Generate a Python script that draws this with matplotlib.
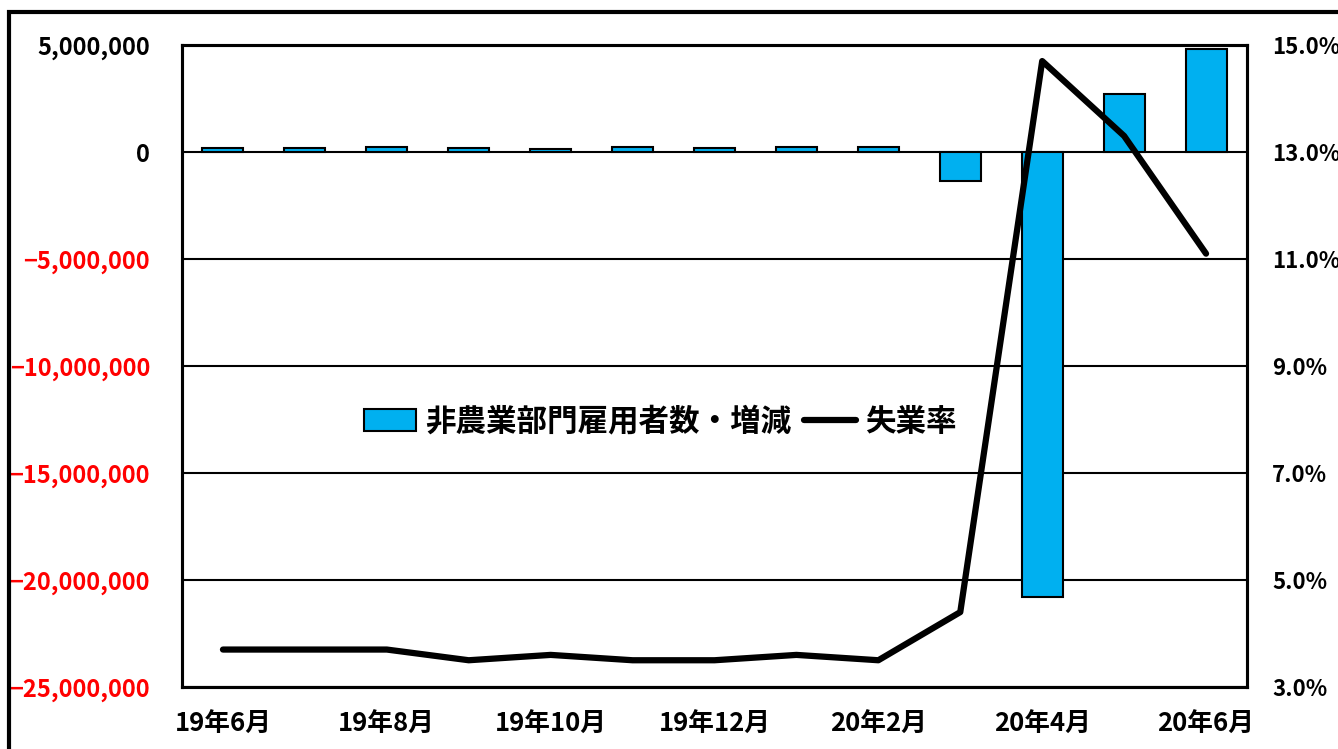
import matplotlib.pyplot as plt
import matplotlib.patches as mpatches
from matplotlib.ticker import FuncFormatter
import numpy as np

plt.rcParams['font.family'] = ['Noto Sans CJK JP', 'DejaVu Sans']

# --- データ ---
meses = ["19年6月", "19年7月", "19年8月", "19年9月", "19年10月", "19年11月", "19年12月",
         "20年1月", "20年2月", "20年3月", "20年4月", "20年5月", "20年6月"]
emprego = [193000, 166000, 219000, 180000, 156000, 256000, 184000,
           214000, 251000, -1373000, -20787000, 2725000, 4800000]
desemprego = [3.7, 3.7, 3.7, 3.5, 3.6, 3.5, 3.5, 3.6, 3.5, 4.4, 14.7, 13.3, 11.1]

esq_ticks = [5000000, 0, -5000000, -10000000, -15000000, -20000000, -25000000]
dir_ticks = [3.0, 5.0, 7.0, 9.0, 11.0, 13.0, 15.0]

nome_barra = "非農業部門雇用者数・増減"
nome_linha = "失業率"

fig = plt.figure(figsize=(13.38, 7.49), dpi=100)
ax = fig.add_axes([182 / 1338, 1 - 687 / 749, 1065 / 1338, 642 / 749])
ax2 = ax.twinx()

x = np.arange(len(meses))
barras = ax.bar(x, emprego, width=0.5, color='#00B0F0', edgecolor='black',
                linewidth=1.5, zorder=2, label=nome_barra)
linha, = ax2.plot(x, desemprego, color='black', linewidth=4.5,
                  solid_joinstyle='round', solid_capstyle='round', label=nome_linha)

ax.set_xlim(-0.5, len(meses) - 0.5)
ax.set_ylim(-25000000, 5000000)
ax2.set_ylim(3.0, 15.0)

ax.set_yticks(esq_ticks)
ax.yaxis.set_major_formatter(FuncFormatter(
    lambda v, p: ("\u2212" if v < 0 else "") + f"{abs(int(v)):,}"))
ax2.set_yticks(dir_ticks)
ax2.yaxis.set_major_formatter(FuncFormatter(lambda v, p: f"{v:.1f}%"))

ax.set_xticks(x[::2])
ax.set_xticklabels(meses[::2])

ax.grid(axis='y', color='black', linewidth=1.5, zorder=1)
ax.set_axisbelow(True)

for a in (ax, ax2):
    for s in a.spines.values():
        s.set_linewidth(2.2)
    a.tick_params(length=0)

for lbl in ax.get_yticklabels():
    lbl.set_fontsize(17)
    lbl.set_fontweight('bold')
    if lbl.get_text().startswith("\u2212"):
        lbl.set_color('red')
ax.tick_params(axis='y', pad=23)
for lbl in ax.get_xticklabels():
    lbl.set_fontsize(18.5)
    lbl.set_fontweight('bold')
ax.tick_params(axis='x', pad=17)
for lbl in ax2.get_yticklabels():
    lbl.set_fontsize(16)
    lbl.set_fontweight('bold')
ax2.tick_params(axis='y', pad=18)

leg = ax2.legend([barras, linha], [nome_barra, nome_linha], ncol=2, frameon=False,
                 loc='center', bbox_to_anchor=(0.449, 0.413),
                 prop={'size': 22, 'weight': 'bold'},
                 handlelength=1.7, handletextpad=0.3, columnspacing=0.4)

# moldura exterior
fig.patches.append(mpatches.Rectangle((9 / 1338, -0.1), 1.2, 1.1 - 12 / 749,
                                      transform=fig.transFigure, fill=False,
                                      edgecolor='black', linewidth=3))

plt.savefig("out.png", dpi=100)
